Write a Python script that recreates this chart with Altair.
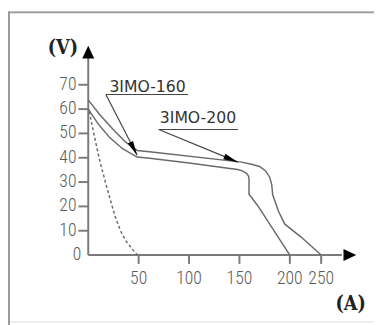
import altair as alt
import pandas as pd

# ---------------- data ----------------
# 3IMO-160 curve (lower solid)
a160 = [0, 10, 21, 34, 48.5, 63, 100, 148, 153, 157, 159, 159.5, 159.5, 168, 200]
v160 = [60, 53.8, 48.4, 43.7, 40.3, 39.7, 37.8, 35.2, 34.6, 33.6, 32.5, 31, 25, 20.4, 0]
# 3IMO-200 curve (upper solid)
a200 = [0, 11.3, 24.3, 37.2, 48.5, 63, 152, 162, 170, 176, 180, 182, 183, 188.6, 195, 218, 250]
v200 = [63.8, 57.8, 51.8, 46.4, 43, 42.4, 38.2, 37.3, 36.4, 34.6, 32, 29, 24.8, 18.1, 12.7, 7.4, 0]
# dashed curve
adash = [1, 5, 11, 17, 22.5, 27, 32, 37, 42, 46, 49]
vdash = [59, 51, 39.5, 30, 21.8, 15.5, 10, 6, 3.3, 1.3, 0]

x_ticks = [50, 100, 150, 200, 250]
y_ticks = [10, 20, 30, 40, 50, 60, 70]

labels = ["3IMO-160", "3IMO-200"]
label_a = [21, 71]
label_v = [67.2, 54.2]
under_a1 = [17.5, 70]
under_a2 = [99, 148.5]
under_v = [66, 51.6]
tip_a = [48.5, 148.5]
tip_v = [41, 38.2]
tip_angle = [152.7, 112.2]

x_axis_end = 283
y_axis_end = 81
x_arrow_tip = 306
y_arrow_tip = 86

# ---------------- scales ----------------
xs = alt.Scale(domain=[0, 200, 310], range=[82, 288, 358.4], nice=False, zero=False)
ys = alt.Scale(domain=[0, 90], range=[249, 25.26], nice=False, zero=False)

GRAY = "#6a6a6a"
TICKFONT = "Roboto Condensed, DejaVu Sans Condensed, sans-serif"
UNITFONT = "DejaVu Serif Condensed, Liberation Serif, serif"


def X(f):
    return alt.X(f, type="quantitative", scale=xs, axis=None)


def Y(f):
    return alt.Y(f, type="quantitative", scale=ys, axis=None)


curves = pd.DataFrame(
    [{"s": "160", "o": i, "a": a, "v": v} for i, (a, v) in enumerate(zip(a160, v160))]
    + [{"s": "200", "o": i, "a": a, "v": v} for i, (a, v) in enumerate(zip(a200, v200))]
)
dash = pd.DataFrame({"a": adash, "v": vdash, "o": range(len(adash))})

solid = alt.Chart(curves).mark_line(color=GRAY, strokeWidth=1.5).encode(
    x=X("a"), y=Y("v"), detail="s:N", order="o:Q"
)
dashed = alt.Chart(dash).mark_line(color=GRAY, strokeWidth=1.5, strokeDash=[3, 2.5]).encode(
    x=X("a"), y=Y("v"), order="o:Q"
)

# axes lines
axes_df = pd.DataFrame({"a": [0, 0], "a2": [x_axis_end, 0], "v": [0, 0], "v2": [0, y_axis_end]})
axes = alt.Chart(axes_df).mark_rule(color="#7a7a7a", strokeWidth=2).encode(
    x=X("a"), x2="a2:Q", y=Y("v"), y2="v2:Q"
)
arrow_df = pd.DataFrame({"a": [0, x_arrow_tip], "v": [y_arrow_tip, 0], "ang": [0, 90]})
arrows = alt.Chart(arrow_df).mark_point(
    shape="M 0 0 L 0.47 1 L -0.47 1 Z", filled=True, color="#000", opacity=1, size=676
).encode(x=X("a"), y=Y("v"), angle=alt.Angle("ang:Q", scale=None))

# ticks
yt = pd.DataFrame({"v": y_ticks, "a": [0] * len(y_ticks), "lab": [str(t) for t in y_ticks]})
ytick = alt.Chart(yt).mark_rule(color="#7a7a7a", strokeWidth=2, xOffset=-10).encode(
    x=X("a"), x2="a:Q", y=Y("v")
)
ylab = alt.Chart(yt).mark_text(
    align="right", baseline="middle", dx=-12, font=TICKFONT, fontWeight=300, fontSize=18, color="#5a5a5a"
).encode(x=X("a"), y=Y("v"), text="lab:N")
zero_lab = alt.Chart(pd.DataFrame({"a": [0], "v": [0], "lab": ["0"]})).mark_text(
    align="right", baseline="middle", dx=-7, font=TICKFONT, fontWeight=300, fontSize=18, color="#5a5a5a"
).encode(x=X("a"), y=Y("v"), text="lab:N")

xt = pd.DataFrame({"a": x_ticks, "v": [0] * len(x_ticks), "lab": [str(t) for t in x_ticks]})
xtick = alt.Chart(xt).mark_rule(color="#7a7a7a", strokeWidth=2, y2Offset=9).encode(
    x=X("a"), y=Y("v"), y2="v:Q"
)
xlab = alt.Chart(xt).mark_text(
    align="center", baseline="middle", dy=25, font=TICKFONT, fontWeight=300, fontSize=18, color="#5a5a5a"
).encode(x=X("a"), y=Y("v"), text="lab:N")

# unit labels
units = pd.DataFrame({"a": [-25.2, 297], "v": [84.9, -20], "lab": ["(V)", "(A)"]})
unit_txt = alt.Chart(units).mark_text(
    align="center", baseline="middle", font=UNITFONT, fontWeight="bold",
    fontSize=20, color="#222"
).encode(x=X("a"), y=Y("v"), text="lab:N")

# annotations
ann = pd.DataFrame({
    "lab": labels, "la": label_a, "lv": label_v,
    "u1": under_a1, "u2": under_a2, "uv": under_v,
    "ta": tip_a, "tv": tip_v, "ang": tip_angle,
})
under = alt.Chart(ann).mark_rule(color="#444", strokeWidth=1.2).encode(
    x=X("u1"), x2="u2:Q", y=Y("uv")
)
leader = alt.Chart(ann).mark_rule(color="#444", strokeWidth=1.2).encode(
    x=X("u1"), x2="ta:Q", y=Y("uv"), y2="tv:Q"
)
heads = alt.Chart(ann).mark_point(
    shape="M 0 0 L 0.4 2 L -0.4 2 Z", filled=True, color="#000", opacity=1, size=225
).encode(x=X("ta"), y=Y("tv"), angle=alt.Angle("ang:Q", scale=None))
ann_txt = alt.Chart(ann).mark_text(
    align="left", baseline="alphabetic", font="DejaVu Sans", fontSize=16, color="#333"
).encode(x=X("la"), y=Y("lv"), text="lab:N")

# frame (decoration)
frame_top = alt.Chart(pd.DataFrame({"k": [0]})).mark_rule(color="#9a9a9a", strokeWidth=2).encode(
    x=alt.value(0), x2=alt.value(400), y=alt.value(1)
)
frame_left = alt.Chart(pd.DataFrame({"k": [0]})).mark_rule(color="#9a9a9a", strokeWidth=2).encode(
    x=alt.value(1), y=alt.value(0), y2=alt.value(400)
)

chart = alt.layer(
    frame_top, frame_left, axes, ytick, xtick, ylab, zero_lab, xlab, unit_txt,
    dashed, solid, under, leader, heads, arrows, ann_txt,
).properties(
    width=374, height=317, autosize=alt.AutoSizeParams(type="none"), padding=0
).configure_view(stroke=None).configure(background="white")

chart.save("out.html", embed_options={"renderer": "svg", "actions": False})
